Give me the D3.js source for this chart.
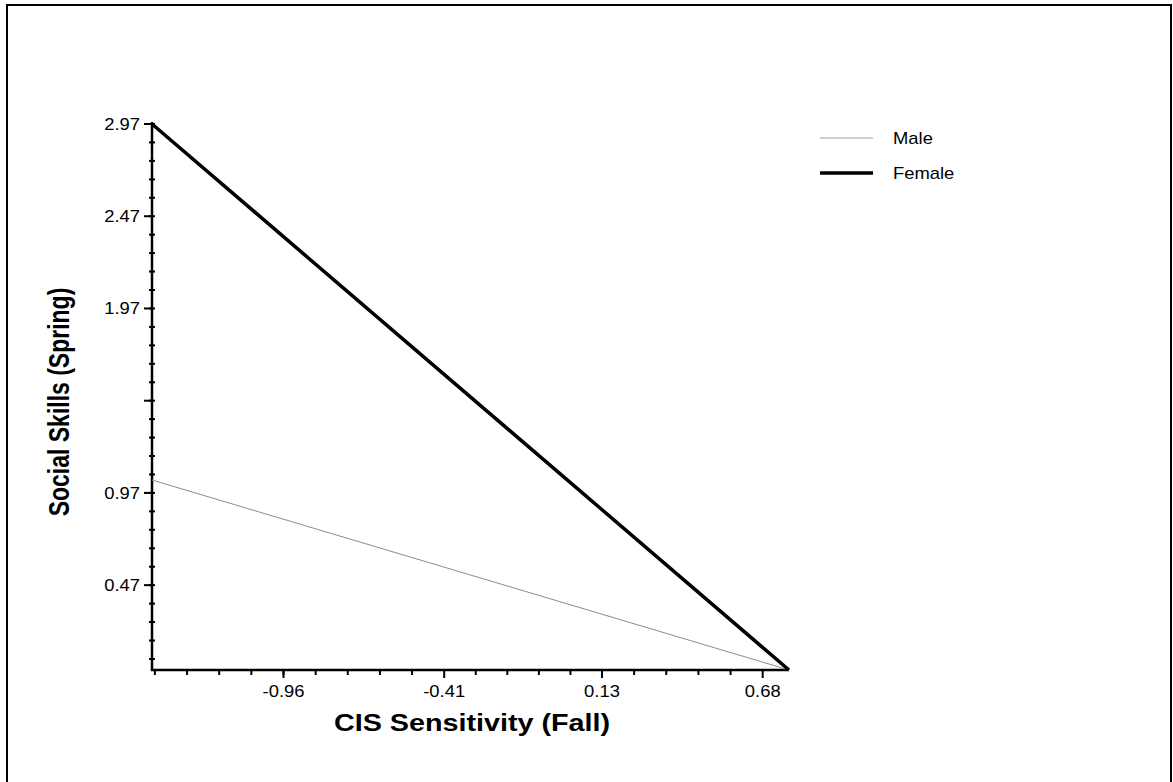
<!DOCTYPE html>
<html>
<head>
<meta charset="utf-8">
<script src="https://cdn.jsdelivr.net/npm/d3@7"></script>
<style>
  body { margin: 0; background: #fff; }
  text { font-family: Arial, "Liberation Sans", sans-serif; }
</style>
</head>
<body>
<div id="chart"></div>
<script>
// data
var seriesNames = ["Male", "Female"];
var xEnds = [-1.41, 0.77];
var maleValues = [1.04, 0.01];
var femaleValues = [2.97, 0.01];

// axis ticks
var xTickValues = [-0.96, -0.41, 0.13, 0.68];
var xTickLabels = ["-0.96", "-0.41", "0.13", "0.68"];
var yTickValues = [0.47, 0.97, 1.47, 1.97, 2.47, 2.97];
var yTickLabels = ["0.47", "0.97", "", "1.97", "2.47", "2.97"];

var W = 1173, H = 782;
// the original picture is a little wider than tall, text looks stretched
var stretch = 1.15;
var titleStretch = 1.25;

var svg = d3.select("#chart").append("svg")
  .attr("width", W)
  .attr("height", H);

// outer frame
svg.append("rect")
  .attr("x", 7).attr("y", 5)
  .attr("width", 1164).attr("height", 778)
  .attr("fill", "none")
  .attr("stroke", "#000")
  .attr("stroke-width", 2);

var x = d3.scaleLinear().domain(xEnds).range([152, 789]);
var y = d3.scaleLinear().domain([0.01, 2.97]).range([670, 124]);

// minor ticks, fifths between the labelled ticks
var xStep = (xTickValues[1] - xTickValues[0]) / 5;
var xMinor = [];
for (var v = xTickValues[0]; v > xEnds[0]; v -= xStep) xMinor.push(v);
for (var i = 0; i < xTickValues.length - 1; i++) {
  var s = (xTickValues[i + 1] - xTickValues[i]) / 5;
  for (var k = 1; k < 5; k++) xMinor.push(xTickValues[i] + k * s);
}
var yMinor = [];
for (var yv = 2.97; yv > 0.02; yv -= 0.1) yMinor.push(+yv.toFixed(2));

var g = svg.append("g");

// minor ticks
g.selectAll(".ym").data(yMinor).enter().append("line")
  .attr("x1", x(xEnds[0]) - 3).attr("x2", x(xEnds[0]) + 3)
  .attr("y1", function(d) { return y(d); })
  .attr("y2", function(d) { return y(d); })
  .attr("stroke", "#000").attr("stroke-width", 2);

g.selectAll(".xm").data(xMinor).enter().append("line")
  .attr("x1", function(d) { return x(d); })
  .attr("x2", function(d) { return x(d); })
  .attr("y1", 670).attr("y2", 675)
  .attr("stroke", "#000").attr("stroke-width", 2);

// major ticks
g.selectAll(".yM").data(yTickValues).enter().append("line")
  .attr("x1", x(xEnds[0]) - 8).attr("x2", x(xEnds[0]))
  .attr("y1", function(d) { return y(d); })
  .attr("y2", function(d) { return y(d); })
  .attr("stroke", "#000").attr("stroke-width", 2);

g.selectAll(".xM").data(xTickValues).enter().append("line")
  .attr("x1", function(d) { return x(d); })
  .attr("x2", function(d) { return x(d); })
  .attr("y1", 670).attr("y2", 678)
  .attr("stroke", "#000").attr("stroke-width", 2);

// axis lines
g.append("line")
  .attr("x1", x(xEnds[0])).attr("x2", x(xEnds[0]))
  .attr("y1", y(2.97) - 2).attr("y2", 671)
  .attr("stroke", "#000").attr("stroke-width", 2.5);
g.append("line")
  .attr("x1", x(xEnds[0]) - 1).attr("x2", x(xEnds[1]))
  .attr("y1", 670).attr("y2", 670)
  .attr("stroke", "#000").attr("stroke-width", 2.5);

// tick labels
g.selectAll(".yl").data(yTickValues).enter().append("text")
  .attr("transform", function(d) {
    return "translate(140," + (y(d) + 6) + ") scale(" + stretch + ",1)";
  })
  .attr("text-anchor", "end")
  .attr("font-size", 16)
  .text(function(d, i) { return yTickLabels[i]; });

g.selectAll(".xl").data(xTickValues).enter().append("text")
  .attr("transform", function(d) {
    return "translate(" + x(d) + ",697) scale(" + stretch + ",1)";
  })
  .attr("text-anchor", "middle")
  .attr("font-size", 16)
  .text(function(d, i) { return xTickLabels[i]; });

// axis titles
svg.append("text")
  .attr("transform", "translate(472,731) scale(" + titleStretch + ",1)")
  .attr("text-anchor", "middle")
  .attr("font-size", 23).attr("font-weight", "bold")
  .text("CIS Sensitivity (Fall)");

svg.append("text")
  .attr("transform", "translate(69,402) scale(" + titleStretch + ",1) rotate(-90)")
  .attr("text-anchor", "middle")
  .attr("font-size", 23).attr("font-weight", "bold")
  .text("Social Skills (Spring)");

// lines
var line = d3.line()
  .x(function(d, i) { return x(xEnds[i]); })
  .y(function(d) { return y(d); });

svg.append("path").datum(maleValues)
  .attr("d", line)
  .attr("fill", "none")
  .attr("stroke", "#8c8c8c")
  .attr("stroke-width", 1);

svg.append("path").datum(femaleValues)
  .attr("d", line)
  .attr("fill", "none")
  .attr("stroke", "#000")
  .attr("stroke-width", 3.5);

// legend
var legendStyles = [
  { color: "#a0a0a0", width: 1 },
  { color: "#000", width: 3.5 }
];
var legend = svg.append("g").attr("transform", "translate(820,138)");
legend.selectAll("line").data(seriesNames).enter().append("line")
  .attr("x1", 0).attr("x2", 53)
  .attr("y1", function(d, i) { return i * 35; })
  .attr("y2", function(d, i) { return i * 35; })
  .attr("stroke", function(d, i) { return legendStyles[i].color; })
  .attr("stroke-width", function(d, i) { return legendStyles[i].width; });
legend.selectAll("text").data(seriesNames).enter().append("text")
  .attr("transform", function(d, i) {
    return "translate(73," + (i * 35 + 6) + ") scale(" + stretch + ",1)";
  })
  .attr("font-size", 16)
  .text(function(d) { return d; });
</script>
</body>
</html>
